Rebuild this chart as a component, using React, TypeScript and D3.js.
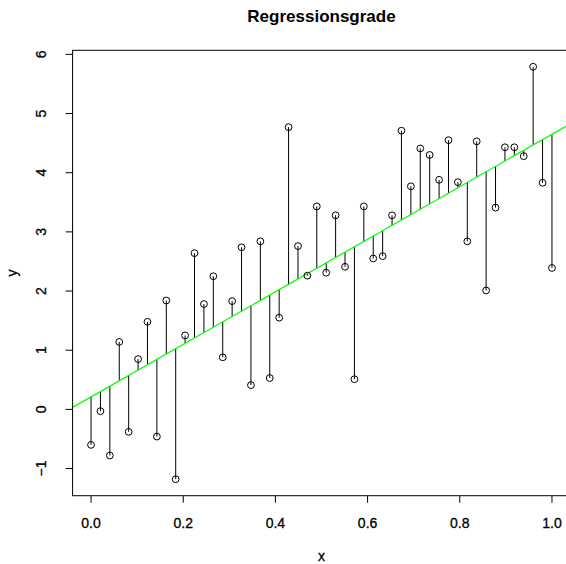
import React from "react";
import * as d3 from "d3";

const yValues: number[] = [
  -0.6, -0.03, -0.78, 1.14, -0.38, 0.85, 1.48, -0.46, 1.84, -1.18,
  1.25, 2.64, 1.78, 2.25, 0.88, 1.83, 2.74, 0.41, 2.84, 0.53,
  1.55, 4.77, 2.76, 2.26, 3.43, 2.31, 3.28, 2.41, 0.51, 3.43,
  2.55, 2.59, 3.28, 4.71, 3.77, 4.41, 4.3, 3.88, 4.55, 3.84,
  2.84, 4.53, 2.01, 3.41, 4.43, 4.43, 4.28, 5.79, 3.83, 2.39,
];
const xValues: number[] = yValues.map((_, i) => i / (yValues.length - 1));
const xTicks: number[] = [0, 0.2, 0.4, 0.6, 0.8, 1.0];
const yTicks: number[] = [-1, 0, 1, 2, 3, 4, 5, 6];
const title = "Regressionsgrade";
const xLabel = "x";
const yLabel = "y";

export default function App() {
  const W = 566;
  const H = 564;
  const left = 72.6;
  const right = 570.4;
  const top = 50.3;
  const bottom = 495.7;
  const font = "'Liberation Sans', Arial, Helvetica, sans-serif";
  const textStroke = { stroke: "#000", strokeWidth: 0.3 };

  const xExt = d3.extent(xValues) as [number, number];
  const yExt = d3.extent(yValues) as [number, number];
  const xr = xExt[1] - xExt[0];
  const yr = yExt[1] - yExt[0];
  const x = d3.scaleLinear().domain([xExt[0] - 0.04 * xr, xExt[1] + 0.04 * xr]).range([left, right]);
  const y = d3.scaleLinear().domain([yExt[0] - 0.04 * yr, yExt[1] + 0.04 * yr]).range([bottom, top]);

  // least squares fit
  const mx = d3.mean(xValues)!;
  const my = d3.mean(yValues)!;
  let sxy = 0, sxx = 0;
  xValues.forEach((xv, i) => {
    sxy += (xv - mx) * (yValues[i] - my);
    sxx += (xv - mx) * (xv - mx);
  });
  const b = sxy / sxx;
  const a = my - b * mx;
  const fit = (xv: number) => a + b * xv;
  const [dx0, dx1] = x.domain();
  const lineGen = d3.line<number>().x((d) => x(d)).y((d) => y(fit(d)));

  return (
    <div style={{ position: "absolute", left: 0, top: 0 }}>
      <svg width={W} height={H} style={{ display: "block", background: "#fff" }}>
        <defs>
          <clipPath id="plotclip">
            <rect x={left} y={top} width={right - left} height={bottom - top} />
          </clipPath>
        </defs>
        <text x={321.5} y={22} textAnchor="middle" fontFamily={font} fontWeight="bold" fontSize={17}>
          {title}
        </text>
        {/* segments */}
        <g stroke="#000" strokeWidth={1}>
          {xValues.map((xv, i) => (
            <line key={i} x1={x(xv)} x2={x(xv)} y1={y(yValues[i])} y2={y(fit(xv))} />
          ))}
        </g>
        {/* regression line */}
        <path d={lineGen([dx0, dx1]) || ""} stroke="#00ff00" strokeWidth={1.2} fill="none" clipPath="url(#plotclip)" />
        {/* points */}
        <g fill="none" stroke="#000" strokeWidth={1}>
          {xValues.map((xv, i) => (
            <circle key={i} cx={x(xv)} cy={y(yValues[i])} r={3.4} />
          ))}
        </g>
        {/* box */}
        <rect x={left} y={top} width={right - left} height={bottom - top} fill="none" stroke="#000" strokeWidth={1} />
        {/* x axis */}
        <g>
          {xTicks.map((t) => (
            <g key={t}>
              <line x1={x(t)} x2={x(t)} y1={bottom} y2={bottom + 7} stroke="#000" />
              <text x={x(t)} y={528} textAnchor="middle" fontFamily={font} fontSize={14} {...textStroke}>
                {t.toFixed(1)}
              </text>
            </g>
          ))}
        </g>
        {/* y axis */}
        <g>
          {yTicks.map((t) => (
            <g key={t}>
              <line x1={left} x2={left - 7} y1={y(t)} y2={y(t)} stroke="#000" />
              <text
                transform={`translate(45.5,${y(t)}) rotate(-90)`}
                textAnchor="middle"
                fontFamily={font}
                fontSize={14}
                {...textStroke}
              >
                {t < 0 ? `\u2212${Math.abs(t)}` : String(t)}
              </text>
            </g>
          ))}
        </g>
        <text x={321.5} y={561} textAnchor="middle" fontFamily={font} fontSize={14} {...textStroke}>
          {xLabel}
        </text>
        <text
          transform={`translate(17,${(top + bottom) / 2}) rotate(-90)`}
          textAnchor="middle"
          fontFamily={font}
          fontSize={14}
          {...textStroke}
        >
          {yLabel}
        </text>
      </svg>
    </div>
  );
}
